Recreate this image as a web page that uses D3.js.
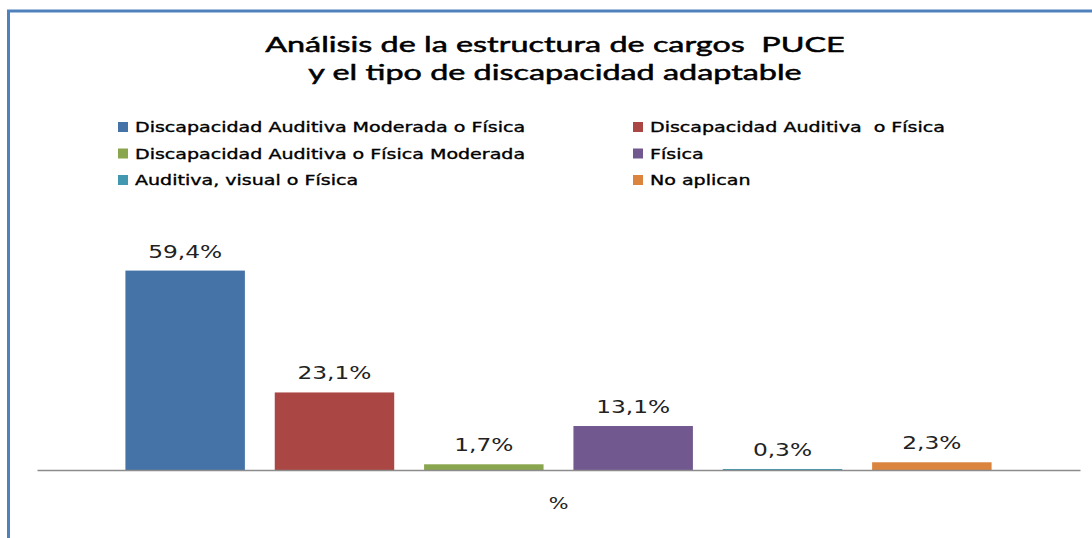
<!DOCTYPE html>
<html>
<head>
<meta charset="utf-8">
<script src="https://cdn.jsdelivr.net/npm/d3@7"></script>
<style>
  body { margin: 0; background: #fff; }
  svg { display: block; }
  text { white-space: pre; }
</style>
</head>
<body>
<div id="chart"></div>
<script>
// datos
var titleLines = ["Análisis de la estructura de cargos  PUCE", "y el tipo de discapacidad adaptable"];
var categories = ["%"];
var series = [
  "Discapacidad Auditiva Moderada o Física",
  "Discapacidad Auditiva  o Física",
  "Discapacidad Auditiva o Física Moderada",
  "Física",
  "Auditiva, visual o Física",
  "No aplican"
];
var values = [59.4, 23.1, 1.7, 13.1, 0.3, 2.3];
var labels = ["59,4%", "23,1%", "1,7%", "13,1%", "0,3%", "2,3%"];
var colors = ["#4572a7", "#aa4643", "#89a54e", "#71588f", "#4198af", "#db843d"];

var W = 1092, H = 538;
var plot = {left: 37, right: 1080, top: 235, bottom: 470};

var svg = d3.select("#chart")
  .append("svg")
    .attr("width", W)
    .attr("height", H);

// borde del marco (solo arriba e izquierda visibles)
svg.append("path")
  .attr("d", "M8.5," + H + "V11H" + W)
  .attr("fill", "none")
  .attr("stroke", "#4f81bd")
  .attr("stroke-width", 3);

// título
svg.append("g").selectAll("text")
  .data(titleLines)
  .enter()
  .append("text")
    .attr("data-stretch", 1.47)
    .attr("x", 555)
    .attr("y", function(d, i) { return 52 + i * 28; })
    .attr("text-anchor", "middle")
    .attr("font-family", "Lato, 'Open Sans', sans-serif")
    .attr("font-size", "22px")
    .attr("fill", "#000")
    .attr("stroke", "#000")
    .attr("stroke-width", 0.5)
    .text(function(d) { return d; });

// leyenda, 2 columnas
var legend = svg.append("g");
var leg = legend.selectAll("g")
  .data(series)
  .enter()
  .append("g")
    .attr("transform", function(d, i) {
      var col = i % 2, row = Math.floor(i / 2);
      return "translate(" + (col ? 633 : 118) + "," + (122 + row * 26.5) + ")";
    });
leg.append("rect")
  .attr("width", 10)
  .attr("height", 10)
  .attr("fill", function(d, i) { return colors[i]; });
leg.append("text")
  .attr("data-stretch", 1.36)
  .attr("x", 17)
  .attr("y", 10)
  .attr("font-family", "'DejaVu Sans', Verdana, sans-serif")
  .attr("font-size", "14px")
  .attr("fill", "#000")
  .attr("stroke", "#000")
  .attr("stroke-width", 0.35)
  .text(function(d) { return d; });

// escalas
var x0 = d3.scaleBand()
  .domain(categories)
  .range([plot.left, plot.right])
  .paddingInner(0)
  .paddingOuter(0.082);

var x1 = d3.scaleBand()
  .domain(series)
  .range([x0("%"), x0("%") + x0.bandwidth()])
  .paddingInner(0.2)
  .paddingOuter(0.1);

var y = d3.scaleLinear()
  .domain([0, 70])
  .range([plot.bottom, plot.top]);

// barras
svg.append("g").selectAll("rect")
  .data(values)
  .enter()
  .append("rect")
    .attr("x", function(d, i) { return x1(series[i]); })
    .attr("y", function(d) { return y(d); })
    .attr("width", x1.bandwidth())
    .attr("height", function(d) { return y(0) - y(d); })
    .attr("fill", function(d, i) { return colors[i]; });

// etiquetas de datos
svg.append("g").selectAll("text")
  .data(values)
  .enter()
  .append("text")
    .attr("data-stretch", 1.37)
    .attr("x", function(d, i) { return x1(series[i]) + x1.bandwidth() / 2; })
    .attr("y", function(d) { return y(d) - 13; })
    .attr("text-anchor", "middle")
    .attr("font-family", "'DejaVu Sans', Verdana, sans-serif")
    .attr("font-size", "17px")
    .attr("fill", "#222")
    .text(function(d, i) { return labels[i]; });

// eje x
var xAxis = svg.append("g")
  .attr("transform", "translate(0," + plot.bottom + ")")
  .call(d3.axisBottom(x0).tickSize(0).tickSizeOuter(0).tickPadding(28));
xAxis.select(".domain")
  .attr("stroke", "#8c8c8c")
  .attr("stroke-width", 1.5);
xAxis.selectAll("text")
  .attr("data-stretch", 1.3)
  .attr("font-family", "'DejaVu Sans', Verdana, sans-serif")
  .attr("font-size", "16px")
  .attr("fill", "#222");

// estirar el texto a lo ancho como en la imagen original
svg.selectAll("text[data-stretch]").each(function() {
  var t = d3.select(this);
  var w = this.getComputedTextLength();
  t.attr("textLength", w * (+t.attr("data-stretch")))
   .attr("lengthAdjust", "spacingAndGlyphs");
});
</script>
</body>
</html>
